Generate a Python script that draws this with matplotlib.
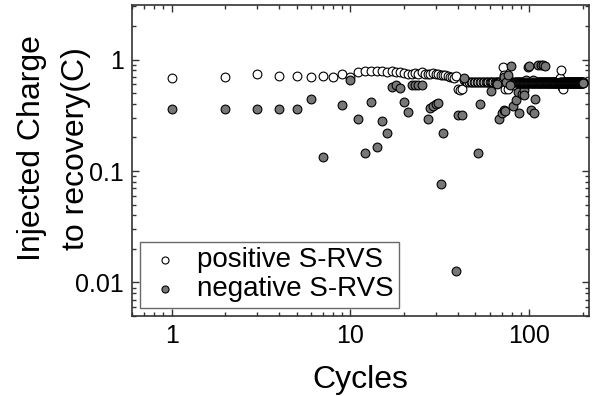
import matplotlib

matplotlib.use("Agg")
import matplotlib.pyplot as plt  # noqa: E402
from matplotlib.ticker import LogLocator, NullFormatter, FixedFormatter, FixedLocator  # noqa: E402

plt.rcParams["font.family"] = ["Liberation Sans", "DejaVu Sans"]

# positive S-RVS: one value per cycle
pos_cycles = list(range(1, 201))
pos_charge = [
    0.68, 0.70, 0.74, 0.71, 0.715, 0.705, 0.715, 0.70, 0.74, 0.70,
    0.78, 0.79, 0.79, 0.79, 0.79, 0.78, 0.79, 0.78, 0.77, 0.76,
    0.75, 0.74, 0.76, 0.75, 0.77, 0.75, 0.75, 0.74, 0.76, 0.74,
    0.75, 0.73, 0.72, 0.73, 0.71, 0.70, 0.70, 0.69, 0.71, 0.55,
    0.53, 0.55, 0.66, 0.64, 0.63, 0.63, 0.63, 0.63, 0.63, 0.63,
    0.63, 0.63, 0.63, 0.63, 0.63, 0.63, 0.63, 0.63, 0.63, 0.63,
    0.63, 0.63, 0.63, 0.63, 0.63, 0.63, 0.63, 0.63, 0.63, 0.63,
    0.85, 0.73, 0.55, 0.63, 0.63, 0.54, 0.63, 0.63, 0.63, 0.63,
    0.59, 0.63, 0.63, 0.63, 0.63, 0.63, 0.63, 0.63, 0.63, 0.63,
    0.63, 0.63, 0.63, 0.63, 0.63, 0.63, 0.63, 0.63, 0.63, 0.63,
    0.63, 0.63, 0.63, 0.63, 0.63, 0.63, 0.63, 0.63, 0.63, 0.63,
    0.63, 0.63, 0.63, 0.63, 0.63, 0.63, 0.63, 0.63, 0.63, 0.63,
    0.63, 0.63, 0.63, 0.63, 0.63, 0.63, 0.63, 0.63, 0.63, 0.63,
    0.63, 0.63, 0.63, 0.63, 0.63, 0.63, 0.63, 0.63, 0.63, 0.63,
    0.63, 0.63, 0.63, 0.63, 0.63, 0.63, 0.63, 0.68, 0.63, 0.80,
    0.63, 0.57, 0.63, 0.63, 0.55, 0.63, 0.63, 0.63, 0.63, 0.63,
    0.63, 0.63, 0.63, 0.63, 0.63, 0.63, 0.63, 0.63, 0.63, 0.63,
    0.63, 0.63, 0.63, 0.63, 0.63, 0.63, 0.63, 0.63, 0.63, 0.63,
    0.63, 0.63, 0.63, 0.63, 0.63, 0.63, 0.63, 0.63, 0.63, 0.63,
    0.63, 0.63, 0.63, 0.63, 0.63, 0.63, 0.63, 0.63, 0.63, 0.63,
]

# negative S-RVS: scattered early cycles, then a dense band near 0.62
neg_cycles = [
    1, 2, 3, 4, 5, 6, 7, 9, 10, 11, 12, 13, 14, 15, 16, 17, 18, 19, 20,
    21, 22, 23, 24, 25, 27, 28, 29, 30, 31, 32, 33, 39, 40, 42, 43, 52,
    53, 61, 66, 68, 70, 72, 72, 73, 74, 76, 78, 79, 81, 84, 86, 88, 91,
    93, 94, 96, 98, 100, 102, 105, 107, 108, 112, 116, 120, 123,
]
neg_charge = [
    0.36, 0.36, 0.36, 0.36, 0.36, 0.44, 0.134, 0.39, 0.66, 0.29, 0.144,
    0.42, 0.165, 0.28, 0.22, 0.57, 0.59, 0.56, 0.42, 0.34, 0.59, 0.59,
    0.59, 0.59, 0.29, 0.365, 0.38, 0.40, 0.41, 0.076, 0.218, 0.0127, 0.32,
    0.32, 0.69, 0.144, 0.40, 0.525, 0.61, 0.29, 0.33, 0.35, 0.70, 0.345,
    0.63, 0.73, 0.59, 0.87, 0.38, 0.43, 0.51, 0.33, 0.49, 0.53, 0.48,
    0.65, 0.86, 0.87, 0.35, 0.65, 0.33, 0.44, 0.89, 0.89, 0.90, 0.88,
]
band_cycles = list(range(88, 201))
band_charge = [0.62] * len(band_cycles)

xticks = [1, 10, 100]
xtick_labels = ["1", "10", "100"]
yticks = [0.01, 0.1, 1]
ytick_labels = ["0.01", "0.1", "1"]

fig = plt.figure(figsize=(5.92, 3.96), dpi=100)
ax = fig.add_axes([0.223, 0.202, 0.772, 0.785])

ax.scatter(pos_cycles, pos_charge, s=40, facecolor="white", edgecolor="black",
           linewidth=0.8, label="positive S-RVS", zorder=3)
ax.scatter(neg_cycles + band_cycles, neg_charge + band_charge, s=40,
           facecolor="#777777", edgecolor="black", linewidth=0.8,
           label="negative S-RVS", zorder=4)

ax.set_xscale("log")
ax.set_yscale("log")
ax.set_xlim(0.6, 216)
ax.set_ylim(0.005, 3.08)

ax.xaxis.set_major_locator(FixedLocator(xticks))
ax.xaxis.set_major_formatter(FixedFormatter(xtick_labels))
ax.yaxis.set_major_locator(FixedLocator(yticks))
ax.yaxis.set_major_formatter(FixedFormatter(ytick_labels))
for axis in (ax.xaxis, ax.yaxis):
    axis.set_minor_locator(LogLocator(base=10, subs=range(2, 10)))
    axis.set_minor_formatter(NullFormatter())

ax.tick_params(which="both", direction="in", top=True, right=True,
               width=1, color="#333333", labelsize=18)
ax.tick_params(which="major", length=5, pad=6)
ax.tick_params(which="minor", length=3)
for sp in ax.spines.values():
    sp.set_linewidth(1.2)
    sp.set_color("#333333")

ax.set_xlabel("Cycles", fontsize=23, labelpad=12)
fig.text(0.091, 0.625, "Injected Charge\nto recovery(C)", fontsize=23,
         rotation=90, ha="center", va="center", multialignment="center",
         linespacing=1.6)

leg = ax.legend(loc="lower left", fontsize=20, frameon=True, fancybox=False,
                handletextpad=0.45, borderpad=0.2, labelspacing=0.1,
                markerscale=0.8, borderaxespad=0.3, handlelength=1.4)
leg.get_frame().set_edgecolor("#444444")
leg.get_frame().set_linewidth(1.0)

fig.savefig("out.png", dpi=100)
